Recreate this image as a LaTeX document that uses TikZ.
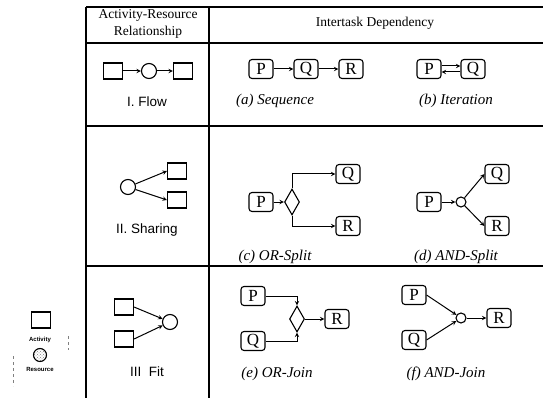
\documentclass[tikz,border=0pt]{standalone}
\usepackage{fontspec}
\setmainfont{Liberation Serif}
\setsansfont{Liberation Sans}
\usetikzlibrary{shapes.geometric, arrows, positioning, patterns}
\tikzstyle{arrow} = [line width=1pt,->,>=stealth]
\tikzstyle{grid} = [line width=1.3pt]
\tikzstyle{task} = [draw, line width=1.1pt, rounded corners=3pt, minimum width=24pt, minimum height=19pt, inner sep=0pt, font=\fontsize{17}{17}\selectfont]
\tikzstyle{act} = [draw, line width=1.1pt, minimum width=19pt, minimum height=16pt, inner sep=0pt]
\tikzstyle{res} = [draw, line width=1.1pt, circle, minimum size=15pt, inner sep=0pt]
\tikzstyle{gate} = [draw, line width=1.1pt, diamond, minimum width=15pt, minimum height=26pt, inner sep=0pt]
\tikzstyle{andgate} = [draw, line width=1.1pt, circle, minimum size=10pt, inner sep=0pt]
\tikzstyle{capt} = [font=\fontsize{15}{15}\selectfont\itshape]
\tikzstyle{rowlab} = [font=\sffamily\fontsize{13.5}{13.5}\selectfont]
\tikzstyle{head} = [font=\fontsize{13.5}{13.5}\selectfont]

\begin{document}
\begin{tikzpicture}[x=1pt,y=-1pt]
\useasboundingbox (0,0) rectangle (543,398);
% table
\draw[grid] (86,7) -- (543,7);
\draw[grid] (86,43) -- (543,43);
\draw[grid] (86,126) -- (543,126);
\draw[grid] (86,266) -- (543,266);
\draw[grid] (86,7) -- (86,398);
\draw[grid] (209,7) -- (209,398);
\node[head] (h1) at (148,15) {Activity-Resource};
\node[head] (h2) at (148,32) {Relationship};
\node[head] (h3) at (375,23) {Intertask Dependency};

% I. Flow
\node[act] (f1) at (113,71) {};
\node[res] (f2) at (149,71) {};
\node[act] (f3) at (183,71) {};
\draw[arrow] (f1) -- (f2);
\draw[arrow] (f2) -- (f3);
\node[rowlab] (flow) at (147,102) {I. Flow};

% (a) sequence
\node[task] (sp) at (261,69) {P};
\node[task] (sq) at (306,69) {Q};
\node[task] (sr) at (351,69) {R};
\draw[arrow] (sp) -- (sq);
\draw[arrow] (sq) -- (sr);
\node[capt] (ca) at (275,101) {(a) Sequence};

% (b) iteration
\node[task] (ip) at (429,69) {P};
\node[task] (iq) at (473,69) {Q};
\draw[arrow] ([yshift=3pt]ip.east) -- ([yshift=3pt]iq.west);
\draw[arrow] ([yshift=-3pt]iq.west) -- ([yshift=-3pt]ip.east);
\node[capt] (cb) at (456,101) {(b) Iteration};

% II. Sharing
\node[res] (s0) at (128,187) {};
\node[act] (s1) at (177,171) {};
\node[act] (s2) at (177,200) {};
\draw[arrow] (s0) -- (s1.west);
\draw[arrow] (s0) -- (s2.west);
\node[rowlab] (share) at (147,230) {II. Sharing};

% (c) OR-split
\node[task] (op) at (261,202) {P};
\node[gate] (od) at (292,202) {};
\node[task] (oq) at (348,174) {Q};
\node[task] (or) at (348,226) {R};
\draw[arrow] (op) -- (od);
\draw[arrow] (od.north) |- (oq);
\draw[arrow] (od.south) |- (or);
\node[capt] (cc) at (275,257) {(c) OR-Split};

% (d) AND-split
\node[task] (ap) at (429,202) {P};
\node[andgate] (ad) at (461,202) {};
\node[task] (aq) at (497,174) {Q};
\node[task] (ar) at (497,226) {R};
\draw[arrow] (ap) -- (ad);
\draw[arrow] (ad) -- (aq.west);
\draw[arrow] (ad) -- (ar.west);
\node[capt] (cd) at (456,257) {(d) AND-Split};

% III. Fit
\node[act] (t1) at (124,307) {};
\node[act] (t2) at (124,339) {};
\node[res] (t0) at (170,322) {};
\draw[arrow] (t1.east) -- (t0);
\draw[arrow] (t2.east) -- (t0);
\node[rowlab] (fit) at (147,372) {III~ Fit};

% (e) OR-join
\node[task] (jp) at (253,296) {P};
\node[task] (jq) at (253,341) {Q};
\node[gate] (jd) at (297,319) {};
\node[task] (jr) at (337,319) {R};
\draw[arrow] (jp) -| (jd.north);
\draw[arrow] (jq) -| (jd.south);
\draw[arrow] (jd) -- (jr);
\node[capt] (ce) at (277,374) {(e) OR-Join};

% (f) AND-join
\node[task] (kp) at (414,295) {P};
\node[task] (kq) at (414,340) {Q};
\node[andgate] (kd) at (461,318) {};
\node[task] (kr) at (499,318) {R};
\draw[arrow] (kp.east) -- (kd);
\draw[arrow] (kq.east) -- (kd);
\draw[arrow] (kd) -- (kr);
\node[capt] (cf) at (446,374) {(f) AND-Join};

% legend
\node[act] (la) at (41,320) {};
\node[font=\sffamily\bfseries\fontsize{6}{6}\selectfont] (lat) at (40,340) {Activity};
\node[res, minimum size=13pt, pattern=crosshatch dots, pattern color=gray] (lr) at (40,355) {};
\node[font=\sffamily\bfseries\fontsize{6}{6}\selectfont] (lrt) at (40,369) {Resource};
\draw[gray, dashed, thin] (68,336) -- (68,350);
\draw[gray, dashed, thin] (13,356) -- (13,386);
\end{tikzpicture}
\end{document}
